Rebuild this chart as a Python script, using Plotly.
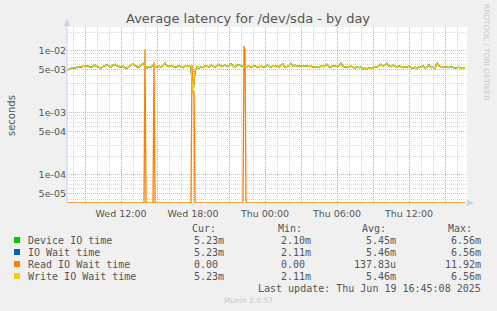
import plotly.graph_objects as go
import pandas as pd

# ---------------- data ----------------
title = "Average latency for /dev/sda - by day"
start = "2025-06-18 07:30"
step_min = 10

# write IO wait time (ms), one value per 10 minutes from Wed 07:30
write_ms = [
    4.9, 5.1, 5.3, 5.4, 5.3, 5.5, 5.6, 5.5, 5.7, 5.6, 5.8,
    5.6, 5.5, 5.7, 5.9, 5.6, 5.4, 5.3, 5.6, 5.8, 6.0,
    5.7, 5.5, 5.9, 6.1, 5.8, 5.6, 5.5, 5.7, 5.4, 5.3,
    5.6, 5.8, 6.2, 5.9, 5.6, 5.5, 5.8, 6.3, 5.7, 5.4,
    5.6, 5.5, 5.9, 5.6, 5.4, 5.7, 5.5, 5.8, 6.4, 5.7,
    5.6, 5.8, 5.7, 5.5, 5.6, 5.8, 5.5, 5.4, 5.7, 5.6,
    5.8, 5.5, 2.11, 4.8,
    5.6, 5.3, 5.6, 5.4, 5.8, 5.6,
    5.5, 5.9, 5.7, 5.5, 5.8, 6.1, 5.6, 5.7, 5.9, 5.6,
    5.8, 6.2, 5.7, 5.5, 5.9, 6.0, 5.7, 5.8, 5.5, 5.6,
    5.7, 5.5, 5.6, 5.8, 5.5, 5.6, 5.7, 5.5, 5.6, 5.9,
    5.6, 5.5, 5.7, 5.6, 5.8, 5.5, 5.9, 6.2, 5.4, 5.6,
    5.8, 6.3, 5.7, 5.9, 5.6, 5.8, 5.7, 5.6, 5.8, 5.7,
    5.6, 5.7, 5.5, 5.6, 5.5, 5.4, 5.7, 5.6, 5.8, 6.1,
    5.6, 5.5, 5.8, 5.7, 5.6, 5.8, 6.4, 5.7, 5.5, 5.6,
    5.4, 5.7, 5.5, 5.3, 5.6, 5.4, 5.5, 5.2, 5.3, 5.1,
    5.4, 5.2, 5.3, 5.6, 5.5, 5.8, 6.1, 5.7, 5.9, 6.3,
    5.7, 5.6, 5.9, 5.7, 5.5, 5.8, 5.6, 5.4, 5.6, 5.5,
    5.7, 5.4, 5.3, 5.5, 5.2, 5.6, 5.4, 5.8, 5.3, 5.5,
    6.0, 5.4, 5.5, 5.2, 6.56, 5.7, 5.6, 5.4, 5.6, 5.5,
    5.4, 5.6, 5.5, 5.3, 5.4, 5.5, 5.2, 5.3, 5.23,
]

# device IO time (ms), nearly identical to write IO wait
device_ms = [
    4.9, 5.1, 5.3, 5.3, 5.3, 5.5, 5.6, 5.4, 5.7, 5.6, 5.8,
    5.6, 5.5, 5.6, 5.9, 5.6, 5.4, 5.3, 5.6, 5.8, 6.0,
    5.7, 5.5, 5.9, 6.0, 5.8, 5.6, 5.4, 5.7, 5.4, 5.3,
    5.6, 5.8, 6.2, 5.9, 5.5, 5.5, 5.8, 6.3, 5.7, 5.3,
    5.6, 5.5, 5.9, 5.6, 5.4, 5.7, 5.5, 5.8, 6.4, 5.7,
    5.6, 5.8, 5.7, 5.5, 5.6, 5.8, 5.5, 5.4, 5.7, 5.6,
    5.8, 5.4, 2.10, 4.6,
    5.6, 5.2, 5.6, 5.4, 5.8, 5.6,
    5.5, 5.9, 5.7, 5.5, 5.8, 6.1, 5.6, 5.7, 5.9, 5.6,
    5.8, 6.2, 5.7, 5.5, 5.9, 6.0, 5.7, 5.8, 5.5, 5.6,
    5.7, 5.5, 5.6, 5.8, 5.5, 5.6, 5.7, 5.5, 5.6, 5.9,
    5.6, 5.5, 5.7, 5.6, 5.8, 5.5, 5.9, 6.2, 5.4, 5.6,
    5.8, 6.3, 5.7, 5.9, 5.6, 5.8, 5.7, 5.6, 5.8, 5.7,
    5.6, 5.7, 5.5, 5.6, 5.5, 5.4, 5.7, 5.6, 5.8, 6.1,
    5.6, 5.5, 5.8, 5.7, 5.6, 5.8, 6.4, 5.7, 5.5, 5.6,
    5.4, 5.7, 5.5, 5.3, 5.6, 5.4, 5.5, 5.1, 5.3, 5.1,
    5.4, 5.2, 5.3, 5.6, 5.5, 5.8, 6.1, 5.7, 5.9, 6.3,
    5.7, 5.6, 5.9, 5.7, 5.5, 5.8, 5.6, 5.4, 5.6, 5.5,
    5.7, 5.4, 5.3, 5.5, 5.2, 5.6, 5.4, 5.8, 5.3, 5.5,
    6.0, 5.4, 5.5, 5.2, 6.56, 5.7, 5.6, 5.4, 5.6, 5.5,
    5.4, 5.6, 5.5, 5.3, 5.4, 5.5, 5.2, 5.3, 5.23,
]

# IO wait time is identical to write IO wait in this capture
iowait_ms = list(write_ms)

# read IO wait time (ms): zero except for a few spikes
read_times = [
    "2025-06-18 07:30", "2025-06-18 13:55", "2025-06-18 14:00", "2025-06-18 14:05",
    "2025-06-18 14:40", "2025-06-18 14:45", "2025-06-18 14:50",
    "2025-06-18 17:50", "2025-06-18 17:55", "2025-06-18 18:00", "2025-06-18 18:05",
    "2025-06-18 18:10",
    "2025-06-18 22:10", "2025-06-18 22:15", "2025-06-18 22:20", "2025-06-18 22:25",
    "2025-06-19 16:45",
]
read_ms = [
    0, 0, 10.7, 0,
    0, 6.7, 0,
    0, 6.0, 2.5, 2.2,
    0,
    0, 11.92, 10.5, 0,
    0,
]

series_names = ["Device IO time", "IO Wait time", "Read IO Wait time", "Write IO Wait time"]
series_colors = ["#00CC00", "#0066B3", "#FF8000", "#FFCC00"]
cur_vals = ["5.23m", "5.23m", "0.00", "5.23m"]
min_vals = ["2.10m", "2.11m", "0.00", "2.11m"]
avg_vals = ["5.45m", "5.46m", "137.83u", "5.46m"]
max_vals = ["6.56m", "6.56m", "11.92m", "6.56m"]
last_update = "Last update: Thu Jun 19 16:45:08 2025"
footer = "Munin 2.0.57"
side_text = "RRDTOOL / TOBI OETIKER"
y_title = "seconds"

y_tick_vals = [5e-5, 1e-4, 5e-4, 1e-3, 5e-3, 1e-2]
y_tick_text = ["5e-05", "1e-04", "5e-04", "1e-03", "5e-03", "1e-02"]
y_minor_vals = [4e-5, 6e-5, 7e-5, 8e-5, 9e-5,
                2e-4, 3e-4, 4e-4, 6e-4, 7e-4, 8e-4, 9e-4,
                2e-3, 3e-3, 4e-3, 6e-3, 7e-3, 8e-3, 9e-3, 2e-2]

x_tick_vals = ["2025-06-18 09:00", "2025-06-18 12:00", "2025-06-18 15:00", "2025-06-18 18:00",
               "2025-06-18 21:00", "2025-06-19 00:00", "2025-06-19 03:00", "2025-06-19 06:00",
               "2025-06-19 09:00", "2025-06-19 12:00", "2025-06-19 15:00"]
x_tick_text = ["", "Wed 12:00", "", "Wed 18:00", "", "Thu 00:00", "", "Thu 06:00",
               "", "Thu 12:00", ""]
x_range = ["2025-06-18 07:30", "2025-06-19 16:50"]
y_log_range = [-4.452, -1.613]

# ---------------- figure ----------------
W, H = 497, 311
L, R, T, B = 67, 30, 27, 108
PW, PH = W - L - R, H - T - B

times = pd.date_range(start, periods=len(write_ms), freq=f"{step_min}min")
floor_val = 10 ** y_log_range[0]

def to_s(ms):
    return [v / 1000.0 for v in ms]

read_plot = [v / 1000.0 if v > 0 else floor_val for v in read_ms]

fig = go.Figure()
fig.add_trace(go.Scatter(x=times, y=to_s(device_ms), mode="lines",
                         line=dict(color=series_colors[0], width=1.3), name=series_names[0]))
fig.add_trace(go.Scatter(x=times, y=to_s(iowait_ms), mode="lines",
                         line=dict(color=series_colors[1], width=1.2), name=series_names[1]))
fig.add_trace(go.Scatter(x=pd.to_datetime(read_times), y=read_plot, mode="lines",
                         line=dict(color=series_colors[2], width=1.3), name=series_names[2]))
fig.add_trace(go.Scatter(x=times, y=to_s(write_ms), mode="lines",
                         line=dict(color=series_colors[3], width=1.3), name=series_names[3]))

grid_major = "rgba(235,130,130,0.65)"
grid_minor = "rgba(190,190,190,0.6)"
tick_font = dict(family="DejaVu Sans", size=9.5, color="#555555")

fig.update_layout(
    width=W, height=H,
    margin=dict(l=L, r=R, t=T, b=B),
    paper_bgcolor="#F0F0F0", plot_bgcolor="#FFFFFF",
    showlegend=False,
    xaxis=dict(
        type="date", range=x_range,
        tickmode="array", tickvals=x_tick_vals, ticktext=x_tick_text,
        showgrid=True, gridcolor=grid_major, griddash="1px,1px", gridwidth=1,
        ticks="outside", ticklen=2, tickcolor="#dddddd",
        minor=dict(dtick=3600000, tick0="2025-06-18 00:00", showgrid=True,
                   gridcolor=grid_minor, griddash="1px,1px", gridwidth=1),
        tickfont=tick_font, showline=False, zeroline=False,
    ),
    yaxis=dict(
        type="log", range=y_log_range,
        tickmode="array", tickvals=y_tick_vals, ticktext=y_tick_text,
        showgrid=True, gridcolor=grid_major, griddash="1px,1px", gridwidth=1,
        minor=dict(tickmode="array", tickvals=y_minor_vals, showgrid=True,
                   gridcolor=grid_minor, griddash="1px,1px", gridwidth=1),
        tickfont=tick_font, showline=False, zeroline=False, ticks="",
    ),
)

def px(xp):
    return (xp - L) / PW

def py(yp):
    return (H - B - yp) / PH

annots = []
annots.append(dict(text=title, x=px(248), y=py(18), xref="paper", yref="paper",
                   xanchor="center", yanchor="middle", showarrow=False,
                   font=dict(family="DejaVu Sans", size=13, color="#555555")))
annots.append(dict(text=y_title, x=px(11), y=py(115), xref="paper", yref="paper",
                   xanchor="center", yanchor="middle", showarrow=False, textangle=-90,
                   font=dict(family="DejaVu Sans", size=10, color="#555555")))
annots.append(dict(text=side_text, x=px(487), y=py(52), xref="paper", yref="paper",
                   xanchor="center", yanchor="middle", showarrow=False, textangle=90,
                   font=dict(family="DejaVu Sans", size=7.5, color="#C8C8C8")))

mono = dict(family="DejaVu Sans Mono", size=10, color="#555555")
headers = [("Cur:", 190), ("Min:", 276), ("Avg:", 360), ("Max:", 446)]
for h, xx in headers:
    annots.append(dict(text=h, x=px(xx), y=py(228), xref="paper", yref="paper",
                       xanchor="left", yanchor="middle", showarrow=False, font=mono))

col_right = [226, 313, 398, 483]
char_w = 6.0
row_y = [240, 252, 264, 276]
shapes = []
for i, name in enumerate(series_names):
    yy = row_y[i]
    shapes.append(dict(type="rect", xref="paper", yref="paper",
                       x0=px(14), x1=px(20), y0=py(yy + 3), y1=py(yy - 3),
                       fillcolor=series_colors[i], line=dict(width=0)))
    annots.append(dict(text=name, x=px(26), y=py(yy), xref="paper", yref="paper",
                       xanchor="left", yanchor="middle", showarrow=False, font=mono))
    for c, vals in enumerate([cur_vals, min_vals, avg_vals, max_vals]):
        v = vals[i]
        right = col_right[c] - (0 if v[-1].isalpha() else char_w)
        annots.append(dict(text=v, x=px(right), y=py(yy), xref="paper", yref="paper",
                           xanchor="right", yanchor="middle", showarrow=False, font=mono))

annots.append(dict(text=last_update, x=px(483), y=py(288), xref="paper", yref="paper",
                   xanchor="right", yanchor="middle", showarrow=False, font=mono))
annots.append(dict(text=footer, x=px(248), y=py(300), xref="paper", yref="paper",
                   xanchor="center", yanchor="middle", showarrow=False,
                   font=dict(family="DejaVu Sans", size=7.5, color="#C8C8C8")))

axis_col = "#C8CEF4"
shapes.append(dict(type="line", xref="paper", yref="paper", x0=0, x1=0, y0=0, y1=py(22),
                   line=dict(color=axis_col, width=1)))
shapes.append(dict(type="path", xref="paper", yref="paper",
                   path=f"M {px(64)} {py(26)} L {px(70)} {py(26)} L {px(67)} {py(19)} Z",
                   fillcolor=axis_col, line=dict(width=0)))
shapes.append(dict(type="path", xref="paper", yref="paper",
                   path=f"M {px(467)} {py(200)} L {px(467)} {py(206)} L {px(474)} {py(203)} Z",
                   fillcolor=axis_col, line=dict(width=0)))

fig.update_layout(annotations=annots, shapes=shapes)
fig.write_html("out.html")
